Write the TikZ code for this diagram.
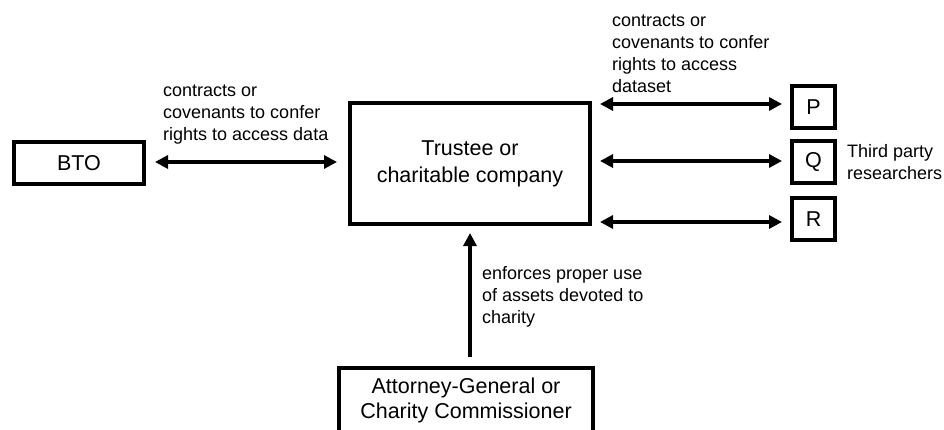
\documentclass[tikz,border=0pt]{standalone}
\usepackage{fontspec}
\setmainfont{Liberation Sans}
\usetikzlibrary{arrows.meta}
\begin{document}
\begin{tikzpicture}[x=1pt,y=-1pt,
  box/.style={draw,line width=4pt,inner sep=0,align=center,font=\fontsize{21.5}{27}\selectfont},
  lbl/.style={align=left,inner sep=0,font=\fontsize{18}{22}\selectfont},
  arr/.style={line width=3.2pt,{Triangle[length=13pt,width=13pt]}-{Triangle[length=13pt,width=13pt]}},
  uparr/.style={line width=3.2pt,-{Triangle[length=13pt,width=13pt]}}]
\useasboundingbox (0,0) rectangle (944,430);
\clip (0,0) rectangle (944,430);
\node[box,minimum width=130,minimum height=42] (bto) at (79,163) {BTO};
\node[box,minimum width=240,minimum height=121] (tr) at (470,163.5) {Trustee or\\charitable company};
\node[box,minimum width=43,minimum height=42] (p) at (813.5,107) {P};
\node[box,minimum width=43,minimum height=42] (q) at (813.5,162) {Q};
\node[box,minimum width=43,minimum height=42] (r) at (813.5,219.5) {R};
\node[box,minimum width=254,minimum height=64,font=\fontsize{21.5}{25}\selectfont] (ag) at (466,400) {Attorney-General or\\Charity Commissioner};
\draw[arr,shorten <=9,shorten >=11] ([yshift=1]bto.east) -- ([yshift=1]bto.east -| tr.west);
\draw[arr,shorten <=8,shorten >=8] ([yshift=3]p.west -| tr.east) -- ([yshift=3]p.west);
\draw[arr,shorten <=8,shorten >=8] ([yshift=1]q.west -| tr.east) -- ([yshift=1]q.west);
\draw[arr,shorten <=8,shorten >=8] ([yshift=-2.5]r.west -| tr.east) -- ([yshift=-2.5]r.west);
\draw[uparr,shorten <=9,shorten >=7] (ag.north -| tr.south) -- (tr.south);
\node[lbl,anchor=west] (l1) at (163,115) {contracts or\\covenants to confer\\rights to access data};
\node[lbl,anchor=west] (l2) at (612,54) {contracts or\\covenants to confer\\rights to access\\dataset};
\node[lbl,anchor=west] (l3) at (482,297) {enforces proper use\\of assets devoted to\\charity};
\node[lbl,anchor=west] (l4) at (847,162.5) {Third party\\researchers};
\end{tikzpicture}
\end{document}
